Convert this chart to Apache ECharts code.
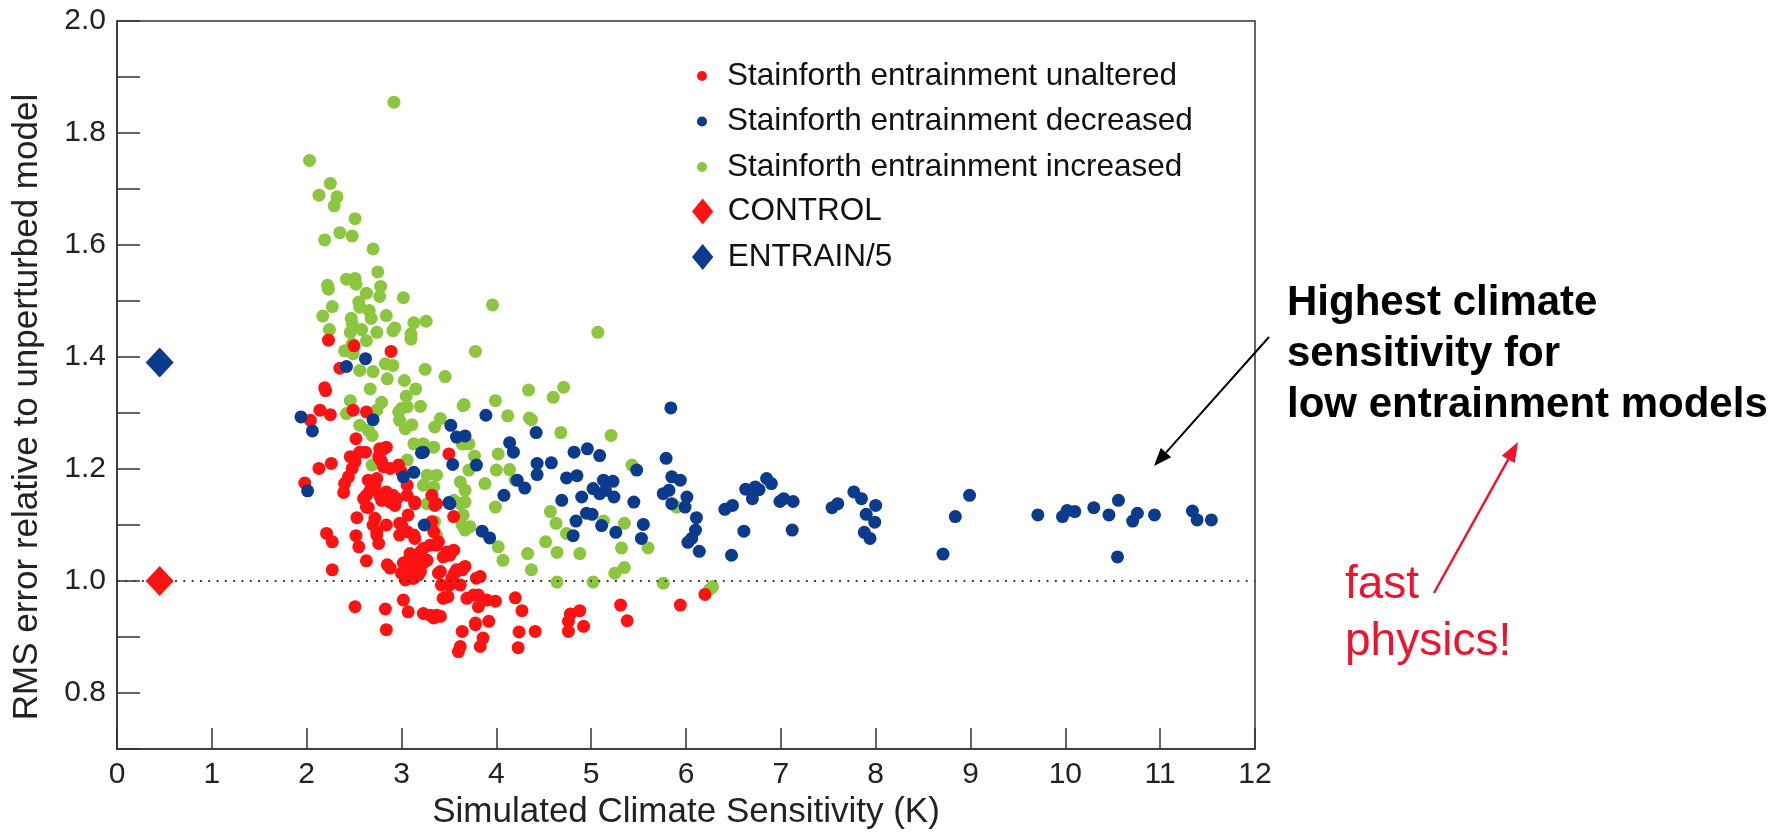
<!DOCTYPE html>
<html>
<head>
<meta charset="utf-8">
<script src="https://cdn.jsdelivr.net/npm/echarts@6/dist/echarts.min.js"></script>
<style>
html,body{margin:0;padding:0;background:#fff;}
#chart{width:1777px;height:835px;}
</style>
</head>
<body>
<div id="chart"></div>
<script>
// ---------------- DATA ----------------
const xTickLabels = ['0','1','2','3','4','5','6','7','8','9','10','11','12'];
const yTickLabels = ['0.8','1.0','1.2','1.4','1.6','1.8','2.0'];

const seriesNames = ['Stainforth entrainment unaltered','Stainforth entrainment decreased','Stainforth entrainment increased','CONTROL','ENTRAIN/5'];

// Stainforth entrainment unaltered (red)
const unaltered = [
[2.23,1.43],[2.50,1.42],[2.89,1.41],[2.35,1.38],[2.19,1.345],[2.20,1.34],[2.14,1.305],[2.25,1.297],[2.49,1.305],[2.63,1.302],
[2.04,1.287],[2.52,1.254],[1.98,1.175],[2.13,1.201],[2.26,1.210],[2.46,1.222],[2.56,1.230],[2.51,1.213],[2.48,1.201],[2.44,1.186],
[2.40,1.174],[2.39,1.158],[2.62,1.230],[2.77,1.236],[2.84,1.239],[2.76,1.222],[2.79,1.213],[2.81,1.204],[2.65,1.180],[2.67,1.162],
[2.60,1.147],[2.72,1.171],[2.77,1.153],[2.84,1.159],[2.88,1.141],[2.97,1.207],[3.00,1.195],[3.06,1.171],[2.95,1.147],[3.06,1.153],
[3.14,1.141],[3.32,1.153],[3.37,1.138],[3.50,1.227],[2.21,1.085],[2.27,1.070],[2.53,1.113],[2.52,1.081],[2.55,1.061],[2.27,1.020],
[2.63,1.036],[2.51,0.954],[2.65,1.131],[2.72,1.112],[2.74,1.088],[2.84,1.100],[2.76,1.067],[2.90,1.141],[2.79,1.144],[2.85,1.029],
[2.88,1.023],[2.83,0.950],[2.84,0.913],[2.98,1.103],[3.07,1.118],[3.06,1.088],[3.14,1.076],[3.02,1.032],[3.06,1.011],[3.11,1.023],
[3.14,1.040],[3.20,1.052],[3.23,1.032],[3.27,1.037],[3.18,1.011],[3.11,1.005],[3.04,1.002],[3.30,1.064],[3.34,1.088],[3.32,1.106],
[3.39,1.070],[3.44,1.043],[3.55,1.055],[3.14,1.138],[3.35,1.135],[3.55,1.115],[3.02,0.966],[3.07,0.945],[3.23,0.942],[3.30,0.939],
[3.37,0.939],[3.41,0.937],[3.41,1.017],[3.42,0.993],[3.44,0.969],[3.49,0.972],[3.56,1.014],[3.64,1.020],[3.67,1.026],[3.62,0.993],
[3.69,0.969],[3.76,0.975],[3.78,0.922],[3.64,0.910],[3.62,0.883],[3.60,0.874],[3.79,1.005],[3.83,1.008],[3.81,0.975],[3.90,0.966],
[3.99,0.964],[3.81,0.954],[3.78,0.925],[3.92,0.928],[3.86,0.898],[3.83,0.883],[4.20,0.970],[4.27,0.947],[4.24,0.909],[4.41,0.910],
[4.23,0.881],[4.78,0.941],[4.88,0.947],[4.76,0.928],[4.76,0.910],[4.92,0.919],[5.31,0.957],[5.38,0.929],[5.94,0.957],[6.20,0.976],
[2.63,1.132],[2.63,1.153],[2.67,1.177],[2.74,1.183],[2.81,1.236],[2.77,1.219],[2.88,1.201],[2.91,1.153],[2.93,1.135],[2.70,1.100],
[2.74,1.082],[3.00,1.100],[2.98,1.082],[3.13,1.082],[3.09,1.049],[3.20,1.046],[3.23,1.058],[3.06,1.035],[3.09,1.020],[3.00,1.014],
[3.13,1.005],[3.20,1.017],[3.37,1.064],[3.48,1.052],[3.51,1.046],[3.48,0.972],[3.51,0.993],[3.53,1.005],[3.58,1.020],[3.65,1.023],
[3.39,1.014],[3.34,0.934]
];

// Stainforth entrainment decreased (blue)
const decreased = [
[2.62,1.397],[2.42,1.383],[1.94,1.293],[2.06,1.268],[2.70,1.288],[3.89,1.296],[2.01,1.161],[3.02,1.186],[3.13,1.194],[3.21,1.229],
[3.23,1.230],[3.52,1.278],[3.58,1.257],[3.67,1.259],[3.54,1.208],[3.79,1.207],[3.50,1.140],[3.24,1.100],[3.51,1.138],[4.14,1.247],
[4.18,1.230],[4.22,1.180],[4.30,1.166],[4.08,1.153],[4.43,1.210],[4.43,1.190],[4.58,1.211],[4.82,1.230],[4.96,1.236],[5.09,1.224],
[4.74,1.184],[4.85,1.188],[5.13,1.180],[5.23,1.178],[5.02,1.165],[5.15,1.162],[5.09,1.156],[5.24,1.150],[4.90,1.150],[4.69,1.144],
[5.45,1.141],[5.48,1.198],[5.79,1.219],[5.85,1.186],[5.94,1.180],[5.76,1.156],[5.82,1.162],[5.85,1.138],[6.01,1.150],[5.99,1.132],
[3.85,1.089],[3.93,1.077],[4.84,1.107],[4.95,1.121],[5.01,1.119],[4.81,1.081],[5.11,1.099],[5.26,1.087],[5.55,1.101],[5.53,1.076],
[6.02,1.069],[4.42,1.265],[5.84,1.309],[6.11,1.113],[6.10,1.091],[6.06,1.076],[6.14,1.053],[6.41,1.128],[6.49,1.135],[6.61,1.089],
[6.48,1.046],[6.63,1.164],[6.73,1.168],[6.77,1.163],[6.85,1.183],[6.90,1.174],[6.70,1.147],[6.99,1.142],[7.03,1.147],[7.13,1.142],
[7.12,1.091],[7.54,1.131],[7.60,1.138],[7.77,1.159],[7.85,1.147],[8.00,1.135],[7.90,1.119],[7.99,1.105],[7.88,1.087],[7.94,1.076],
[8.71,1.048],[8.84,1.115],[8.99,1.153],[9.71,1.118],[9.97,1.115],[10.02,1.126],[10.10,1.124],[10.30,1.131],[10.46,1.118],[10.56,1.144],
[10.55,1.043],[10.71,1.107],[10.76,1.121],[10.94,1.118],[11.34,1.125],[11.39,1.109],[11.54,1.109]
];

// Stainforth entrainment increased (green)
const increased = [
[2.92,1.855],[2.03,1.751],[2.25,1.710],[2.13,1.689],[2.32,1.686],[2.29,1.670],[2.51,1.647],[2.35,1.622],[2.48,1.616],[2.19,1.609],
[2.70,1.593],[2.75,1.552],[2.42,1.539],[2.51,1.540],[2.52,1.530],[2.22,1.528],[2.23,1.521],[2.63,1.514],[2.78,1.526],[2.77,1.508],
[3.02,1.506],[2.55,1.498],[2.56,1.489],[2.27,1.490],[2.66,1.483],[2.68,1.469],[2.17,1.473],[2.84,1.474],[2.47,1.469],[2.48,1.459],
[2.93,1.452],[3.13,1.461],[3.26,1.464],[2.24,1.449],[2.58,1.449],[2.74,1.444],[3.10,1.441],[3.96,1.493],[5.07,1.444],[3.78,1.410],
[3.10,1.432],[3.25,1.378],[3.46,1.365],[3.03,1.358],[3.15,1.343],[3.66,1.315],[3.99,1.322],[4.34,1.341],[4.60,1.328],[4.71,1.346],
[2.83,1.388],[2.91,1.385],[2.85,1.361],[2.56,1.376],[2.70,1.374],[2.67,1.343],[2.46,1.322],[2.79,1.319],[3.05,1.330],[3.00,1.308],
[3.20,1.312],[3.41,1.290],[4.12,1.295],[4.35,1.291],[2.63,1.429],[2.40,1.411],[2.49,1.406],[2.46,1.444],[2.91,1.447],[2.48,1.423],
[3.06,1.311],[2.97,1.302],[2.98,1.287],[3.11,1.279],[3.04,1.272],[3.65,1.313],[3.35,1.275],[2.56,1.278],[2.65,1.269],[2.69,1.260],
[2.42,1.299],[3.13,1.245],[3.23,1.245],[3.34,1.239],[3.06,1.216],[2.69,1.207],[3.27,1.189],[3.37,1.189],[3.23,1.171],[3.34,1.168],
[3.62,1.177],[3.67,1.162],[3.55,1.144],[3.71,1.198],[3.67,1.141],[3.64,1.245],[3.71,1.245],[3.77,1.223],[2.74,1.305],[3.27,1.138],
[3.62,1.138],[3.65,1.118],[3.67,1.091],[3.35,1.106],[3.37,1.082],[4.02,1.227],[4.00,1.198],[4.14,1.199],[3.88,1.174],[4.20,1.180],
[3.99,1.132],[4.57,1.124],[4.63,1.103],[4.74,1.085],[5.43,1.207],[4.52,1.070],[4.64,1.051],[4.88,1.049],[4.02,1.061],[4.07,1.037],
[4.33,1.049],[4.37,1.020],[3.72,1.097],[5.13,1.107],[5.35,1.103],[5.32,1.059],[5.60,1.059],[5.35,1.024],[5.25,1.014],[4.64,0.998],
[5.02,0.998],[5.76,0.996],[5.90,1.132],[6.28,0.990],[6.25,0.985],[4.37,1.288],[4.68,1.265],[5.21,1.260],[3.64,1.100]
];

const control = [[0.45,1.0]];
const entrain5 = [[0.45,1.39]];
const referenceLevel = 1.0;

// ---------------- CHART ----------------
const FONT = "'Liberation Sans', Arial, Helvetica, sans-serif";
const RED = '#ff1212', BLUE = '#0c3a8d', GREEN = '#8cc63f', ANN_RED = '#ee1430';
const chart = echarts.init(document.getElementById('chart'), null, {renderer:'canvas'});

function arrow(x1,y1,x2,y2,color,w,headL,headW){
  const dx=x2-x1, dy=y2-y1, L=Math.hypot(dx,dy), ux=dx/L, uy=dy/L;
  const bx=x2-ux*headL, by=y2-uy*headL, px=-uy, py=ux;
  return [
    {type:'line', shape:{x1,y1,x2:bx,y2:by}, style:{stroke:color,lineWidth:w}},
    {type:'polygon', shape:{points:[[x2,y2],[bx+px*headW,by+py*headW],[bx-px*headW,by-py*headW]]}, style:{fill:color}}
  ];
}

const option = {
  animation:false,
  backgroundColor:'#fff',
  grid:{left:117,right:522,top:21,bottom:84,show:true,borderColor:'#333',borderWidth:1.5,backgroundColor:'transparent'},
  xAxis:{
    type:'value',min:0,max:12,interval:1,
    name:'Simulated Climate Sensitivity (K)',nameLocation:'middle',nameGap:46,
    nameTextStyle:{fontFamily:FONT,fontSize:35,color:'#222'},
    axisLine:{show:true,lineStyle:{color:'#333',width:1.5}},
    axisTick:{show:true,inside:true,length:21,lineStyle:{color:'#333',width:1.5}},
    axisLabel:{fontFamily:FONT,fontSize:30,color:'#222',margin:11,
      formatter:v=>{const i=Math.round(v);return xTickLabels[i]!==undefined?xTickLabels[i]:'';}},
    splitLine:{show:false}
  },
  yAxis:{
    type:'value',min:0.7,max:2.0,interval:0.1,
    name:'RMS error relative to unperturbed model',nameLocation:'middle',nameGap:72,
    nameTextStyle:{fontFamily:FONT,fontSize:35,color:'#222',padding:[0,44,0,0]},
    axisLine:{show:true,lineStyle:{color:'#333',width:1.5}},
    axisTick:{show:true,inside:true,length:23,lineStyle:{color:'#333',width:1.5}},
    axisLabel:{fontFamily:FONT,fontSize:30,color:'#222',margin:11,
      formatter:v=>{const s=v.toFixed(1);return yTickLabels.includes(s)?s:'';}},
    splitLine:{show:false}
  },
  legend:[
    {data:seriesNames.slice(0,3),orient:'vertical',left:697,top:58,padding:0,itemWidth:40,itemHeight:10,itemGap:9.5,
     icon:'circle',selectedMode:false,itemStyle:{opacity:1},textStyle:{fontFamily:FONT,fontSize:31.5,lineHeight:36,color:'#111'}},
    {data:seriesNames.slice(3),orient:'vertical',left:692,top:193.5,padding:0,itemWidth:40,itemHeight:26,itemGap:9.5,
     icon:'path://M0,-1L0.82,0L0,1L-0.82,0Z',selectedMode:false,itemStyle:{opacity:1},textStyle:{fontFamily:FONT,fontSize:31.5,lineHeight:36,color:'#111'}}
  ],
  series:[
    {name:seriesNames[2],type:'scatter',data:increased,symbol:'circle',symbolSize:13,itemStyle:{color:GREEN,opacity:1},z:2,
     markLine:{silent:true,symbol:'none',label:{show:false},lineStyle:{color:'#333',width:1.8,type:[1.8,6.5]},data:[{yAxis:referenceLevel}]}},
    {name:seriesNames[0],type:'scatter',data:unaltered,symbol:'circle',symbolSize:13,itemStyle:{color:RED,opacity:1},z:3},
    {name:seriesNames[1],type:'scatter',data:decreased,symbol:'circle',symbolSize:13,itemStyle:{color:BLUE,opacity:1},z:4},
    {name:seriesNames[3],type:'scatter',data:control,symbol:'diamond',symbolSize:[28,30],itemStyle:{color:RED,opacity:1},z:5},
    {name:seriesNames[4],type:'scatter',data:entrain5,symbol:'diamond',symbolSize:[28,30],itemStyle:{color:BLUE,opacity:1},z:5}
  ],
  graphic:[
    {type:'text',left:1287,top:278,style:{text:'Highest climate\nsensitivity for\nlow entrainment models',font:'bold 42px '+FONT,fill:'#000',lineHeight:51}},
    {type:'text',left:1345,top:557,style:{text:'fast\nphysics!',font:'46px '+FONT,fill:ANN_RED,lineHeight:57}},
    ...arrow(1269,337,1154,466,'#000',2,18,7),
    ...arrow(1434,593,1518,442,ANN_RED,2.5,20,7.5)
  ]
};
chart.setOption(option);
</script>
</body>
</html>
